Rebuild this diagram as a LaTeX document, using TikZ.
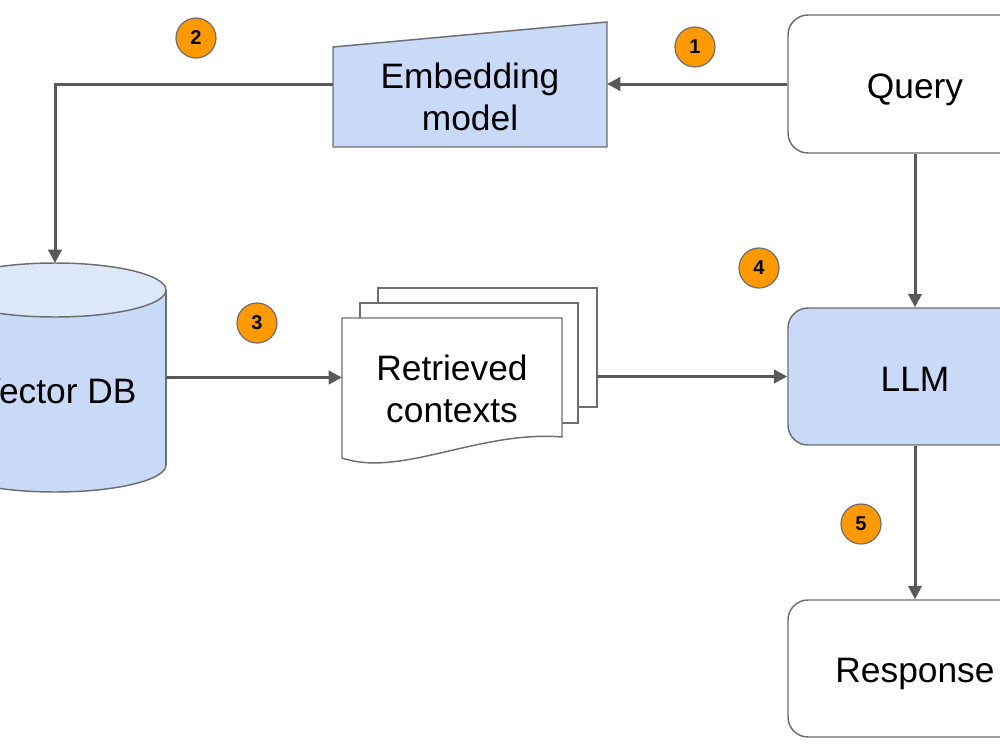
\documentclass[tikz,border=0pt]{standalone}
\usepackage{fontspec}
\setmainfont{Liberation Sans}
\usetikzlibrary{arrows.meta}
\definecolor{lblue}{HTML}{C9DAF8}
\definecolor{ltop}{HTML}{DDE7FA}
\definecolor{lgray}{HTML}{595959}
\definecolor{bord}{HTML}{6E6E6E}
\definecolor{orng}{HTML}{FF9900}
\begin{document}
\begin{tikzpicture}[x=0.75pt,y=-0.75pt,
  shapeline/.style={draw=bord, line width=1.1pt},
  roundbox/.style={shapeline, rounded corners=15pt, minimum width=190.5pt, inner sep=0pt},
  anchorbox/.style={inner sep=0pt, outer sep=0pt},
  lbl/.style={font=\fontsize{26.5}{31.5}\selectfont, align=center, inner sep=0pt, anchor=base},
  conn/.style={draw=lgray, line width=2.25pt, -{Triangle[length=10pt,width=10pt]}},
  badge/.style={circle, fill=orng, draw=bord, line width=0.9pt, minimum size=30pt, inner sep=0pt, font=\bfseries\fontsize{15}{15}\selectfont}]
\useasboundingbox (0,0) rectangle (1000,750);
\clip (0,0) rectangle (1000,750);

% Query / LLM / Response
\node[roundbox, minimum height=103.5pt, fill=white] (query) at (915,84) {};
\node[lbl] (querytxt) at (915,98) {Query};
\node[roundbox, minimum height=102.75pt, fill=lblue] (llm) at (915,376.5) {};
\node[lbl] (llmtxt) at (915,391) {LLM};
\node[roundbox, minimum height=102.75pt, fill=white] (resp) at (915,668.5) {};
\node[lbl] (resptxt) at (915,682) {Response};

% Embedding model (trapezoid)
\draw[shapeline, fill=lblue] (333,47) -- (607,22) -- (607,147) -- (333,147) -- cycle;
\node[anchorbox, minimum width=205.5pt, minimum height=93.75pt] (emb) at (470,84.5) {};
\node[lbl] (embtxt) at (470,130) {Embedding\\model};

% Vector DB (cylinder)
\draw[shapeline, fill=lblue] (55,465) ellipse [x radius=83.25pt, y radius=20.25pt];
\fill[lblue] (-56,290) rectangle (166,465);
\draw[shapeline] (-56,290) -- (-56,465);
\draw[shapeline] (166,290) -- (166,465);
\draw[shapeline, fill=ltop] (55,290) ellipse [x radius=83.25pt, y radius=20.25pt];
\node[anchorbox, minimum width=166.5pt, minimum height=171.75pt] (db) at (55,377.5) {};
\node[lbl] (dbtxt) at (57,403) {Vector DB};

% Retrieved contexts (stacked documents)
\draw[shapeline, fill=white] (378,288) rectangle (597,407);
\draw[shapeline, fill=white] (360,303) rectangle (578,423);
\draw[shapeline, fill=white] (342,318) -- (562,318) -- (562,437) .. controls (480,430) and (400,478) .. (342,458) -- cycle;
\node[anchorbox, minimum width=164.25pt, minimum height=89.25pt] (ctxb) at (487.5,347.5) {};
\node[anchorbox, minimum width=165pt, minimum height=105pt] (ctxf) at (452,388) {};
\node[lbl] (ctxtxt) at (452,422) {Retrieved\\contexts};

% Connectors
\draw[conn] (query.west) -- (query.west -| emb.east);
\draw[conn] (emb.west) -| (db.north);
\draw[conn] (db.east) -- (db.east -| ctxf.west);
\draw[conn] (ctxb.east |- llm.west) -- (llm.west);
\draw[conn] (query.south) -- (llm.north);
\draw[conn] (llm.south) -- (resp.north);

% Badges
\node[badge] (b1) at (695,47) {1};
\node[badge] (b2) at (196,38) {2};
\node[badge] (b3) at (257,323) {3};
\node[badge] (b4) at (759,268) {4};
\node[badge] (b5) at (861,524) {5};
\end{tikzpicture}
\end{document}
